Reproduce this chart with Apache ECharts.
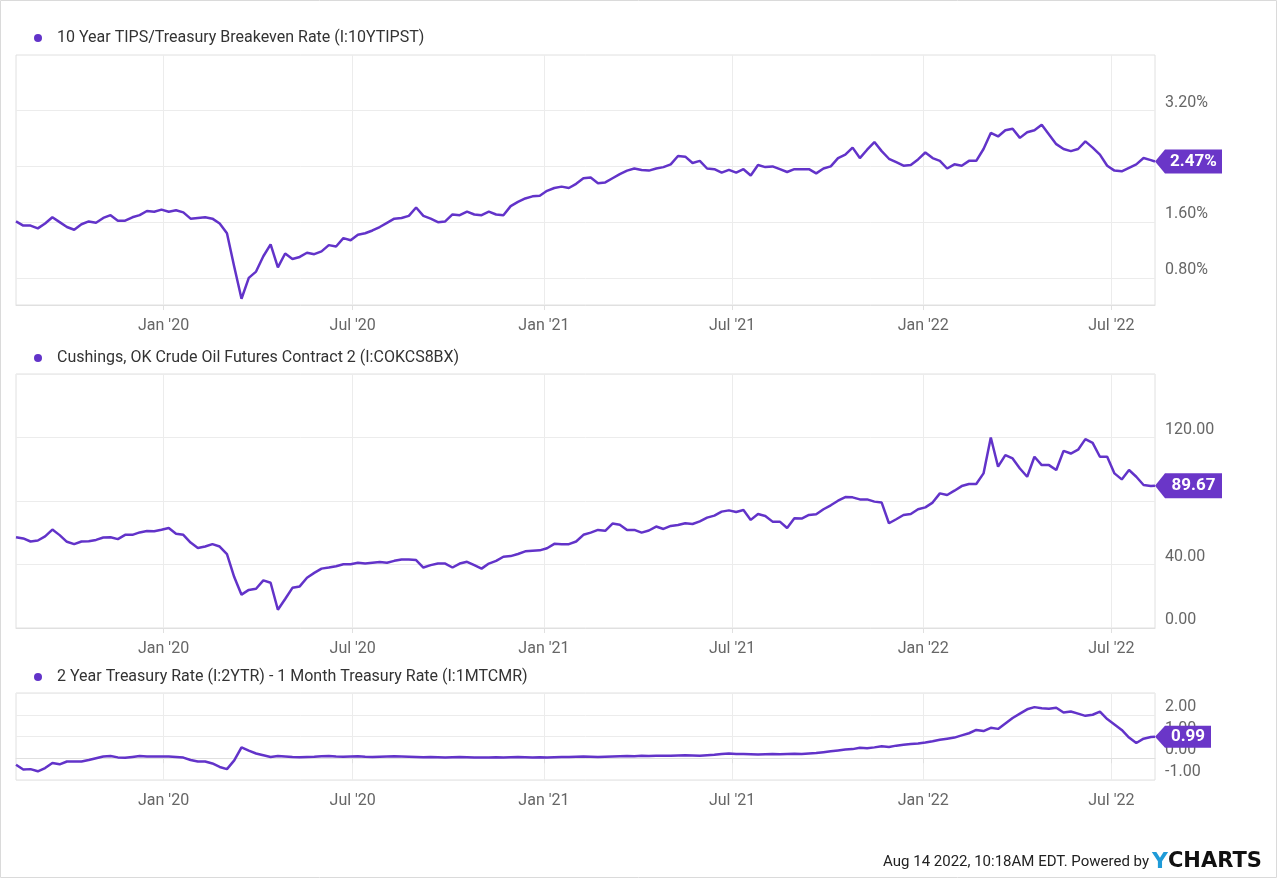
<!DOCTYPE html>
<html><head><meta charset="utf-8">
<script src="https://cdn.jsdelivr.net/npm/echarts@6/dist/echarts.min.js"></script>
<style>html,body{margin:0;padding:0;background:#fff}#c{width:1280px;height:880px}</style>
</head><body><div id="c"></div>
<script>
const seriesNames = [
  '10 Year TIPS/Treasury Breakeven Rate (I:10YTIPST)',
  'Cushings, OK Crude Oil Futures Contract 2 (I:COKCS8BX)',
  '2 Year Treasury Rate (I:2YTR) - 1 Month Treasury Rate (I:1MTCMR)'
];
// weekly observations starting at dateStart, last one at dateEnd
const dateStart = '2019-08-12';
const dateStepDays = 7;
const dateEnd = '2022-08-12';

const breakevenValues = [
  1.61,1.55,1.55,1.51,1.58,1.67,1.60,1.53,1.49,1.57,
  1.61,1.59,1.66,1.70,1.62,1.62,1.67,1.70,1.76,1.75,
  1.78,1.75,1.77,1.74,1.65,1.66,1.67,1.65,1.58,1.44,
  0.96,0.50,0.80,0.89,1.11,1.28,0.95,1.15,1.07,1.10,
  1.16,1.14,1.18,1.27,1.25,1.37,1.34,1.42,1.44,1.48,
  1.53,1.59,1.65,1.66,1.69,1.81,1.69,1.65,1.60,1.61,
  1.71,1.70,1.75,1.71,1.70,1.75,1.71,1.70,1.83,1.89,
  1.94,1.97,1.98,2.05,2.09,2.11,2.09,2.15,2.23,
  2.24,2.16,2.17,2.23,2.29,2.34,2.37,2.35,2.34,2.37,2.39,
  2.43,2.55,2.54,2.45,2.48,2.37,2.36,2.31,2.35,2.31,
  2.36,2.27,2.42,2.39,2.40,2.36,2.32,2.36,2.36,2.36,
  2.30,2.37,2.40,2.52,2.57,2.67,2.52,2.64,2.75,2.62,
  2.51,2.46,2.41,2.42,2.50,2.60,2.52,2.48,2.37,2.43,
  2.41,2.48,2.48,2.65,2.88,2.83,2.92,2.94,2.81,2.89,
  2.92,3.00,2.86,2.72,2.65,2.62,2.65,2.76,2.67,2.57,
  2.41,2.34,2.33,2.38,2.43,2.52,2.49,
  2.47
];
const crudeValues = [
  57.2,56.4,54.5,55.1,57.7,62.0,58.5,54.3,52.8,54.5,
  54.7,55.5,57.0,57.2,56.0,58.7,58.7,60.2,61.1,60.9,
  61.9,63.0,59.4,58.7,53.8,50.4,51.3,52.8,51.3,46.6,
  32.1,21.0,24.0,24.7,30.0,28.5,11.5,18.3,25.3,26.2,
  31.7,34.7,37.4,38.1,38.9,40.2,40.2,41.1,40.6,41.1,
  41.5,41.1,42.3,43.2,43.2,42.8,38.1,39.6,40.6,40.6,
  38.1,40.6,41.7,39.6,37.4,40.6,42.3,44.9,45.3,46.6,
  48.3,48.7,48.9,50.2,53.0,52.8,52.8,54.5,58.7,
  60.1,61.8,61.2,65.8,65.1,61.8,61.8,60.1,61.4,63.9,62.4,
  64.3,64.9,66.0,65.5,67.2,69.5,70.8,73.3,74.1,73.1,
  74.3,68.1,71.8,70.6,67.0,67.0,63.0,69.1,68.9,71.2,
  71.6,74.8,77.3,80.2,82.5,82.3,81.0,81.0,79.6,79.0,
  66.0,68.5,71.2,71.8,74.8,76.0,79.0,84.8,83.8,86.5,
  89.4,90.7,90.7,97.4,120.0,101.6,108.9,106.8,100.5,95.3,
  107.9,102.6,102.6,99.5,111.6,109.9,112.3,119.0,116.6,107.9,
  107.9,97.4,93.6,99.5,95.3,90.1,89.4,
  89.67
];
const spreadValues = [
  -0.30,-0.52,-0.50,-0.60,-0.45,-0.22,-0.28,-0.15,-0.15,-0.15,
  -0.08,0.00,0.08,0.10,0.04,0.02,0.06,0.10,0.08,0.08,
  0.08,0.08,0.06,0.03,-0.08,-0.15,-0.15,-0.24,-0.40,-0.50,
  -0.10,0.50,0.35,0.22,0.14,0.06,0.10,0.08,0.06,0.05,
  0.06,0.07,0.09,0.10,0.08,0.07,0.08,0.09,0.07,0.06,
  0.07,0.08,0.09,0.08,0.07,0.06,0.05,0.06,0.05,0.04,
  0.05,0.06,0.05,0.04,0.03,0.04,0.05,0.04,0.05,0.06,
  0.05,0.04,0.05,0.04,0.05,0.06,0.06,0.07,0.08,
  0.07,0.06,0.07,0.08,0.09,0.10,0.09,0.11,0.10,0.12,0.11,
  0.12,0.13,0.14,0.13,0.12,0.14,0.16,0.20,0.22,0.20,
  0.19,0.18,0.17,0.18,0.19,0.18,0.20,0.21,0.20,0.22,
  0.24,0.28,0.32,0.36,0.40,0.42,0.48,0.46,0.50,0.55,
  0.52,0.58,0.62,0.66,0.68,0.72,0.78,0.85,0.90,0.95,
  1.05,1.15,1.30,1.25,1.40,1.35,1.60,1.85,2.05,2.25,
  2.35,2.30,2.28,2.32,2.10,2.15,2.05,1.95,2.00,2.14,
  1.80,1.55,1.30,0.95,0.70,0.90,0.98,
  0.99
];

const xTickDates = ['2020-01-01','2020-07-01','2021-01-01','2021-07-01','2022-01-01','2022-07-01'];
const xTickLabels = ["Jan '20","Jul '20","Jan '21","Jul '21","Jan '22","Jul '22"];
const breakevenTicks = [0.8, 1.6, 2.4, 3.2];

const DAY = 86400000;
function ts(s){ const p = s.split('-').map(Number); return Date.UTC(p[0], p[1]-1, p[2]); }
function buildDates(n){
  const out = []; const t0 = ts(dateStart);
  for (let i = 0; i < n - 1; i++) out.push(t0 + i * dateStepDays * DAY);
  out.push(ts(dateEnd));
  return out;
}
function pairs(vals){ const d = buildDates(vals.length); return vals.map((v,i)=>[d[i], v]); }

const xTickTs = xTickDates.map(ts);
const FONT = 'Roboto';
const LINE = '#6233c9';
const BOX = '#6a36c8';
const GRIDC = '#ececec';
const BORDER = '#e0e0e0';

const grids = [
  {left:16, right:125, top:55, height:250},
  {left:16, right:125, top:374, height:254},
  {left:16, right:125, top:693, height:87}
].map(g => Object.assign({show:true, borderColor:BORDER, borderWidth:1, backgroundColor:'transparent'}, g));

const xAxes = [0,1,2].map(i => ({
  type:'value', gridIndex:i, min: ts(dateStart), max: ts(dateEnd), scale:true,
  axisLine:{show:true, lineStyle:{color:BORDER}},
  axisTick:{show:true, length:5, customValues: xTickTs, lineStyle:{color:BORDER}},
  splitLine:{show:true, lineStyle:{color:GRIDC, width:1}},
  axisLabel:{customValues: xTickTs, color:'#666', fontSize:16, fontFamily:FONT, margin:13,
    formatter: v => { const k = xTickTs.indexOf(v); return k >= 0 ? xTickLabels[k] : ''; }}
}));

const yBase = {
  type:'value', position:'right',
  axisLine:{show:false}, axisTick:{show:false},
  splitLine:{show:true, lineStyle:{color:GRIDC, width:1}}
};
const yLabel = (fmt) => ({color:'#666', fontSize:16, fontFamily:FONT, margin:10, verticalAlign:'bottom', formatter: fmt});
const yAxes = [
  Object.assign({}, yBase, {gridIndex:0, min:0.41, max:4.0,
    axisTick:{show:false, customValues: breakevenTicks},
    axisLabel: Object.assign(yLabel(v => v.toFixed(2) + '%'), {customValues: breakevenTicks})}),
  Object.assign({}, yBase, {gridIndex:1, min:0, max:160, interval:40,
    axisLabel: Object.assign(yLabel(v => v.toFixed(2)), {showMaxLabel:false})}),
  Object.assign({}, yBase, {gridIndex:2, min:-1, max:3, interval:1,
    axisLabel: Object.assign(yLabel(v => v.toFixed(2)), {showMaxLabel:false})})
];

function endMarker(vals, suffix, w, h){
  const d = buildDates(vals.length);
  const last = vals[vals.length-1];
  const hh = h/2;
  return {
    symbol: 'path://M0,' + hh + 'L10,0L' + w + ',0L' + w + ',' + h + 'L10,' + h + 'Z',
    symbolSize: [w, h], symbolOffset: ['50%', 0], symbolKeepAspect: false,
    itemStyle: {color: BOX},
    label: {show:true, position:'inside', offset:[5,0], color:'#fff', fontWeight:'bold',
      fontSize:17, fontFamily:FONT, formatter: p => Number(p.value).toFixed(2) + suffix},
    data: [{coord:[d[d.length-1], last], value: last}],
    silent: true, animation: false
  };
}

const allVals = [breakevenValues, crudeValues, spreadValues];
const markers = [endMarker(breakevenValues, '%', 67, 24), endMarker(crudeValues, '', 67, 25), endMarker(spreadValues, '', 56, 22)];
const series = allVals.map((vals, i) => ({
  name: seriesNames[i], type:'line', xAxisIndex:i, yAxisIndex:i,
  data: pairs(vals), showSymbol:false, symbol:'none',
  lineStyle:{color:LINE, width:2.5}, itemStyle:{color:LINE},
  markPoint: markers[i], z: 3
}));

const legends = seriesNames.map((n, i) => ({
  data:[n], left:29, top:[25, 345, 664][i], icon:'circle', itemWidth:18, itemHeight:8,
  selectedMode:false, textStyle:{color:'#333', fontSize:16, fontFamily:FONT, padding:[0,0,0,5]}
}));

const chart = echarts.init(document.getElementById('c'), null, {renderer:'canvas'});
chart.setOption({
  animation:false,
  backgroundColor:'#fff',
  textStyle:{fontFamily:FONT},
  grid: grids, xAxis: xAxes, yAxis: yAxes, legend: legends, series: series,
  graphic: [
    {type:'rect', z:-10, shape:{x:0.5, y:0.5, width:1276, height:877}, style:{fill:'none', stroke:'#dadada', lineWidth:1}},
    {type:'text', x:1149, y:862, style:{text:'Aug 14 2022, 10:18AM EDT. Powered by', fill:'#222', font:'15px Roboto', align:'right', verticalAlign:'middle'}},
    {type:'text', x:1152, y:862, style:{text:'{y|Y}{c|CHARTS}', verticalAlign:'middle', align:'left',
      rich:{y:{fill:'#1f9bd8', font:'bold 22px "DejaVu Sans"'}, c:{fill:'#111', font:'bold 21px "DejaVu Sans"'}}}}
  ]
});
</script></body></html>
